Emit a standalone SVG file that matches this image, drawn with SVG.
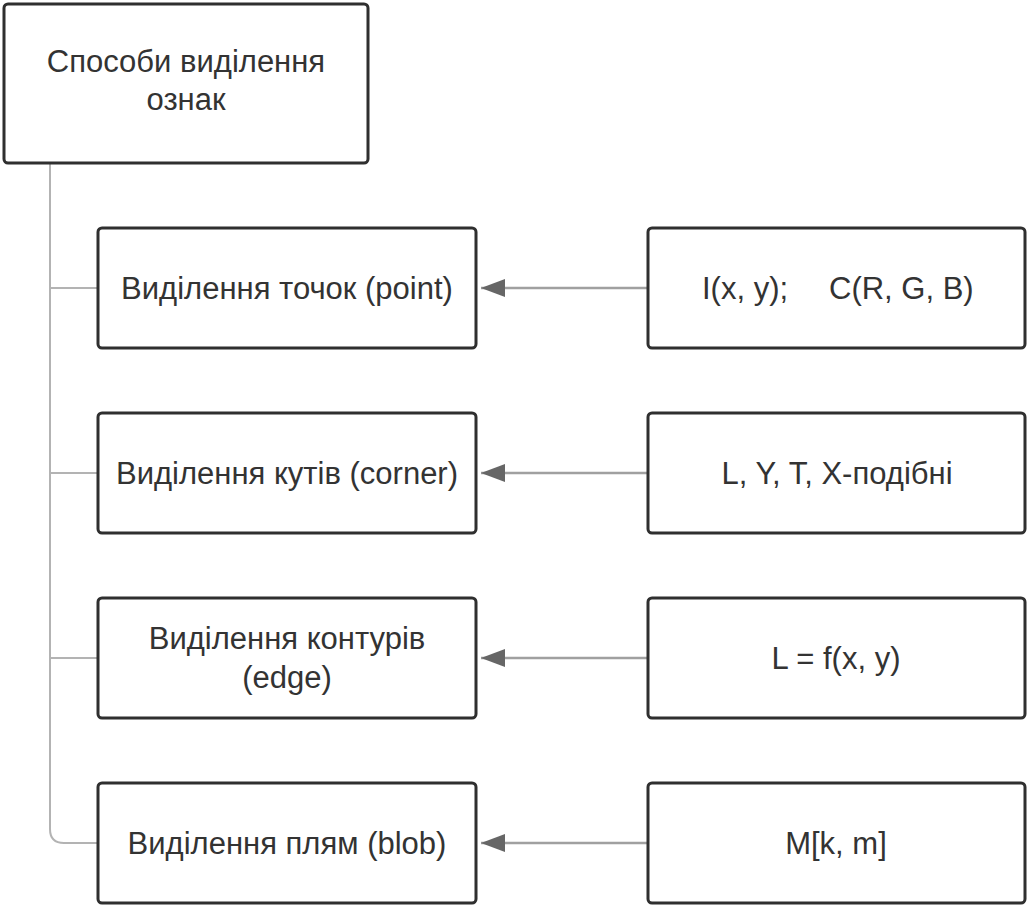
<svg xmlns="http://www.w3.org/2000/svg" width="1028" height="907" viewBox="0 0 1028 907">
<defs>
<style>
.box{fill:#fff;stroke:#2f2f2f;stroke-width:3}
.t{font-family:"Liberation Sans",Arial,sans-serif;font-size:31px;fill:#333;text-anchor:middle}
.tree{fill:none;stroke:#b3b3b3;stroke-width:2}
.arr{fill:none;stroke:#a0a0a0;stroke-width:2.5}
</style>
<marker id="ah" markerWidth="26" markerHeight="20" refX="24" refY="9" orient="auto" markerUnits="userSpaceOnUse">
<path d="M0,0 L24,9 L0,18 Z" fill="#666"/>
</marker>
</defs>
<g id="connectors">
<path class="tree" d="M50,164 V829 Q50,843 64,843 H98"/>
<path class="tree" d="M50,288 H98"/>
<path class="tree" d="M50,473 H98"/>
<path class="tree" d="M50,658 H98"/>
<path class="arr" d="M648,288 H481" marker-end="url(#ah)"/>
<path class="arr" d="M648,473 H481" marker-end="url(#ah)"/>
<path class="arr" d="M648,658 H481" marker-end="url(#ah)"/>
<path class="arr" d="M648,843 H481" marker-end="url(#ah)"/>
</g>
<g id="root">
<rect class="box" x="4" y="4" width="364" height="159" rx="4"/>
<text class="t" x="186" y="72">Способи виділення</text>
<text class="t" x="186" y="110">ознак</text>
</g>
<g id="point">
<rect class="box" x="98" y="228" width="378" height="120" rx="4"/>
<text class="t" x="287" y="299">Виділення точок (point)</text>
</g>
<g id="corner">
<rect class="box" x="98" y="413" width="378" height="120" rx="4"/>
<text class="t" x="287" y="484">Виділення кутів (corner)</text>
</g>
<g id="edge">
<rect class="box" x="98" y="598" width="378" height="120" rx="4"/>
<text class="t" x="287" y="649">Виділення контурів</text>
<text class="t" x="287" y="688">(edge)</text>
</g>
<g id="blob">
<rect class="box" x="98" y="783" width="378" height="120" rx="4"/>
<text class="t" x="287" y="854">Виділення плям (blob)</text>
</g>
<g id="point-src">
<rect class="box" x="648" y="228" width="377" height="120" rx="4"/>
<text class="t" x="702" y="299" style="text-anchor:start">I(x, y);</text>
<text class="t" x="829" y="299" style="text-anchor:start">C(R, G, B)</text>
</g>
<g id="corner-src">
<rect class="box" x="648" y="413" width="377" height="120" rx="4"/>
<text class="t" x="837" y="484">L, Y, T, X-подібні</text>
</g>
<g id="edge-src">
<rect class="box" x="648" y="598" width="377" height="120" rx="4"/>
<text class="t" x="836" y="669">L = f(x, y)</text>
</g>
<g id="blob-src">
<rect class="box" x="648" y="783" width="377" height="120" rx="4"/>
<text class="t" x="836" y="854">M[k, m]</text>
</g>
</svg>
